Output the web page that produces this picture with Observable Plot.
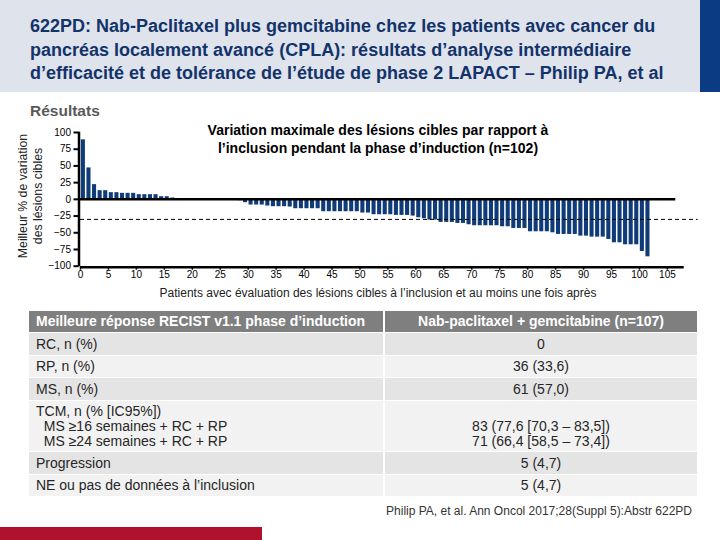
<!DOCTYPE html>
<html>
<head>
<meta charset="utf-8">
<script src="https://cdn.jsdelivr.net/npm/d3@7"></script>
<script src="https://cdn.jsdelivr.net/npm/@observablehq/plot@0.6"></script>
<style>
  html, body { margin: 0; padding: 0; background: #fff; }
  body { width: 720px; height: 540px; position: relative; overflow: hidden; font-family: "Liberation Sans", Arial, sans-serif; }
  .abs { position: absolute; }
  #header { left: 0; top: 0; width: 720px; height: 92px; background: #dfe3eb; }
  #strip { left: 700px; top: 0; width: 20px; height: 92px; background: #0b3b82; }
  #title { left: 30px; top: 15px; width: 680px; font-weight: bold; font-size: 18px; line-height: 23.5px; color: #13336b; white-space: nowrap; }
  #results { left: 30px; top: 102px; font-weight: bold; font-size: 15.5px; color: #595959; }
  #ctitle { left: 128px; top: 121px; width: 500px; text-align: center; font-weight: bold; font-size: 14px; line-height: 18px; color: #000; }
  #ylab { left: -49px; top: 181px; width: 160px; text-align: center; font-size: 12.3px; line-height: 15px; color: #222; transform: rotate(-90deg); transform-origin: 80px 15px; white-space: nowrap; }
  #xlab { left: 28px; top: 286px; width: 700px; text-align: center; font-size: 12px; color: #222; }
  #chart { left: 0; top: 120px; }
  #table { left: 29px; top: 311px; width: 668px; }
  .row { display: flex; border-bottom: 1px solid #fff; box-sizing: border-box; }
  .c1 { width: 356px; padding-left: 7px; box-sizing: border-box; border-right: 2px solid #fff; }
  .c2 { flex: 1; text-align: center; }
  .cell { display: flex; flex-direction: column; justify-content: center; font-size: 14px; line-height: 15px; color: #262626; white-space: nowrap; }
  .hdr .cell { color: #fff; font-weight: bold; font-size: 14px; }
  #cite { right: 28px; top: 504px; font-size: 12px; color: #333; }
  #redbar { left: 0; top: 527px; width: 262px; height: 13px; background: #b0122d; }
</style>
</head>
<body>
<div id="header" class="abs"></div>
<div id="strip" class="abs"></div>
<div id="title" class="abs">622PD: Nab-Paclitaxel plus gemcitabine chez les patients avec cancer du<br>pancréas localement avancé (CPLA): résultats d’analyse intermédiaire<br>d’efficacité et de tolérance de l’étude de phase 2 LAPACT – Philip PA, et al</div>
<div id="results" class="abs">Résultats</div>
<div id="chart" class="abs"></div>
<div id="ctitle" class="abs">Variation maximale des lésions cibles par rapport à<br>l’inclusion pendant la phase d’induction (n=102)</div>
<div id="ylab" class="abs">Meilleur % de variation<br>des lésions cibles</div>
<div id="xlab" class="abs">Patients avec évaluation des lésions cibles à l’inclusion et au moins une fois après</div>
<div id="table" class="abs"></div>
<div id="cite" class="abs">Philip PA, et al. Ann Oncol 2017;28(Suppl 5):Abstr 622PD</div>
<div id="redbar" class="abs"></div>
<script>
// Best % change in target lesions, per patient (sorted waterfall), n = 102
const bestChange = [
  89, 47, 22, 13, 13, 10, 10, 9, 9, 9,
  7, 7, 7, 7, 4, 4, 2, 0, 0, 0,
  0, 0, 0, 0, 0, 0, 0, 0, -2, -5,
  -8.5, -8.5, -8.5, -10, -11, -11, -11, -11.5, -14, -14,
  -14, -14, -14, -18.5, -18.5, -18.5, -18.5, -18.5, -18.5, -18.5,
  -20.5, -20.5, -23, -23, -23, -23, -24, -24, -24, -25,
  -27.5, -29, -31, -31, -34.5, -34.5, -34.5, -36, -36, -38,
  -39.5, -39.5, -39.5, -39.5, -39.5, -41, -41, -43.5, -43.5, -43.5,
  -48.5, -48.5, -48.5, -48.5, -50, -52.5, -52.5, -52.5, -52.5, -55,
  -55, -56.5, -56.5, -56.5, -60, -65, -65, -68, -68, -68,
  -78, -86
];
const responseThreshold = [-30];
const yTicks = [-100, -75, -50, -25, 0, 25, 50, 75, 100];
const xTicks = [0, 5, 10, 15, 20, 25, 30, 35, 40, 45, 50, 55, 60, 65, 70, 75, 80, 85, 90, 95, 100, 105];

// Table
const tableHeader = ["Meilleure réponse RECIST v1.1 phase d’induction", "Nab-paclitaxel + gemcitabine (n=107)"];
const rowLabels = [
  ["RC, n (%)"],
  ["RP, n (%)"],
  ["MS, n (%)"],
  ["TCM, n (% [IC95%])", "\u00a0 MS ≥16 semaines + RC + RP", "\u00a0 MS ≥24 semaines + RC + RP"],
  ["Progression"],
  ["NE ou pas de données à l’inclusion"]
];
const rowValues = [
  ["0"],
  ["36 (33,6)"],
  ["61 (57,0)"],
  ["\u00a0", "83 (77,6 [70,3 – 83,5])", "71 (66,4 [58,5 – 73,4])"],
  ["5 (4,7)"],
  ["5 (4,7)"]
];
const rowHeights = [23, 22, 23, 51, 23, 22];
const rowFills = ["#e4e4e4", "#f2f2f2", "#e4e4e4", "#f2f2f2", "#e4e4e4", "#f2f2f2"];

const chart = Plot.plot({
  width: 720,
  height: 185,
  marginLeft: 80,
  marginRight: 36.3,
  marginTop: 12,
  marginBottom: 39.3,
  x: {domain: [0, 108], axis: null},
  y: {domain: [-100, 100], axis: null},
  style: {fontFamily: "'Liberation Sans', Arial, sans-serif", fontSize: "10px", color: "#000", background: "transparent", overflow: "visible"},
  marks: [
    Plot.rectY(bestChange, {x1: (d, i) => i + 0.15, x2: (d, i) => i + 0.88, y: d => d, fill: "#0f3c78"}),
    Plot.ruleY([0], {x1: 0, x2: 106.5, stroke: "#000", strokeWidth: 2.5}),
    Plot.ruleY(responseThreshold, {x1: 0, x2: 110.5, stroke: "#000", strokeWidth: 1, strokeDasharray: "4,3"}),
    Plot.ruleX([0], {y1: -101, y2: 100.5, stroke: "#000", strokeWidth: 2.5, dx: -1.5}),
    Plot.ruleY([-100], {x1: 0, x2: 108, stroke: "#000", strokeWidth: 2.5, dy: 1}),
    Plot.axisY(yTicks, {tickSize: 5, tickPadding: 3, dx: -1.5, label: null, fontSize: 10, strokeWidth: 2}),
    Plot.axisX(xTicks, {anchor: "bottom", tickSize: 3, tickPadding: 1, dy: 1, label: null, fontSize: 10, strokeWidth: 1.5})
  ]
});
document.getElementById("chart").appendChild(chart);

// Build table
const table = document.getElementById("table");
function makeRow(c1Lines, c2Lines, h, fill, isHeader) {
  const row = document.createElement("div");
  row.className = "row" + (isHeader ? " hdr" : "");
  row.style.height = h + "px";
  row.style.background = fill;
  const a = document.createElement("div");
  a.className = "cell c1";
  c1Lines.forEach(t => { const s = document.createElement("div"); s.textContent = t; a.appendChild(s); });
  const b = document.createElement("div");
  b.className = "cell c2";
  c2Lines.forEach(t => { const s = document.createElement("div"); s.textContent = t; b.appendChild(s); });
  row.appendChild(a); row.appendChild(b);
  table.appendChild(row);
}
makeRow([tableHeader[0]], [tableHeader[1]], 22, "#7f7f7f", true);
rowLabels.forEach((lab, i) => makeRow(lab, rowValues[i], rowHeights[i], rowFills[i], false));
</script>
</body>
</html>
